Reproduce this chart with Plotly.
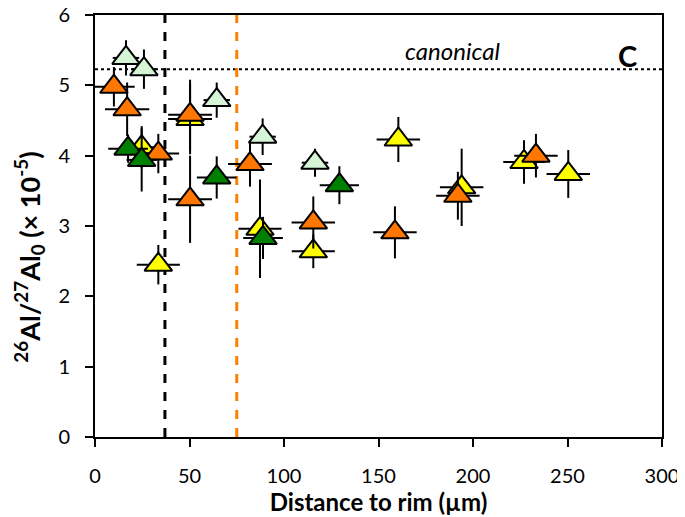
import plotly.graph_objects as go

# Light green series
lg_x = [16.4, 25.9, 64.4, 88.7, 116.4]
lg_y = [5.39, 5.23, 4.79, 4.27, 3.90]
lg_xe = [7, 6.5, 7, 7, 7]
lg_ye = [0.25, 0.28, 0.25, 0.26, 0.20]

# Yellow series
ye_x = [24.7, 33.5, 50.3, 87.3, 115.5, 160.5, 194.0, 227.0, 250.4]
ye_y = [4.12, 2.45, 4.52, 2.96, 2.64, 4.23, 3.55, 3.91, 3.74]
ye_xe = [10, 11.4, 11.6, 11.4, 11.4, 11.5, 11.5, 11, 11.5]
ye_ye = [0.3, 0.28, 0.5, 0.7, 0.24, 0.32, 0.55, 0.31, 0.34]

# Orange series
or_x = [10.0, 17.0, 33.5, 50.3, 50.3, 82.0, 115.5, 158.7, 192.0, 233.3]
or_y = [4.98, 4.66, 4.03, 4.58, 3.38, 3.88, 3.05, 2.91, 3.43, 4.00]
or_xe = [11, 11.7, 11, 11.6, 11.6, 11.6, 11.5, 11.5, 11.5, 11.5]
or_ye = [0.28, 0.38, 0.28, 0.5, 0.62, 0.32, 0.37, 0.37, 0.34, 0.31]

# Dark green series
dg_x = [17.5, 24.7, 64.4, 88.9, 129.3]
dg_y = [4.10, 3.94, 3.69, 2.83, 3.58]
dg_xe = [10.5, 8, 10.5, 10.5, 10.4]
dg_ye = [0.2, 0.45, 0.3, 0.3, 0.27]

canonical = 5.23
rim_black = 37
rim_orange = 75

series = [
    (lg_x, lg_y, lg_xe, lg_ye, "#d6f5d6"),
    (ye_x, ye_y, ye_xe, ye_ye, "#ffff00"),
    (or_x, or_y, or_xe, or_ye, "#ff7700"),
    (dg_x, dg_y, dg_xe, dg_ye, "#008000"),
]

fig = go.Figure()
for xs, ys, xe, yee, col in series:
    fig.add_trace(go.Scatter(
        x=xs, y=ys, mode="markers",
        marker=dict(symbol="triangle-up", size=24, color=col,
                    line=dict(color="black", width=2)),
        error_x=dict(type="data", array=xe, visible=True, color="black",
                     thickness=2, width=0),
        error_y=dict(type="data", array=yee, visible=True, color="black",
                     thickness=2, width=0),
        showlegend=False, cliponaxis=True,
    ))

fig.add_shape(type="line", xref="x", yref="y", x0=0, x1=300, y0=canonical, y1=canonical,
              line=dict(color="black", width=2, dash="dot"), layer="below")
fig.add_shape(type="line", xref="x", yref="y", x0=rim_black, x1=rim_black, y0=0, y1=6,
              line=dict(color="black", width=3, dash="dash"), layer="below")
fig.add_shape(type="line", xref="x", yref="y", x0=rim_orange, x1=rim_orange, y0=0, y1=6,
              line=dict(color="#ff8000", width=3, dash="dash"), layer="below")

fig.add_annotation(x=189, y=5.5, xref="x", yref="y", text="<i>canonical</i>",
                   showarrow=False, font=dict(family="Lato", size=24, color="black"))
fig.add_annotation(x=281.5, y=5.43, xref="x", yref="y", text="<b>C</b>",
                   showarrow=False, font=dict(family="Lato", size=29, color="black"))

# y-axis title as a rotated annotation (placed slightly below the plot centre, as in the reference)
fig.add_annotation(x=0, y=2.55, xref="paper", yref="y", xanchor="center", yanchor="middle",
                   xshift=-66, textangle=-90,
                   text="<b><sup>26</sup>Al/<sup>27</sup>Al<sub>0</sub> (× 10<sup>-5</sup>)</b>",
                   showarrow=False, font=dict(family="Lato", size=27, color="black"))

# page body has an 8px default margin, so the figure is sized/placed to compensate
fig.update_layout(
    width=677, height=509,
    margin=dict(l=87, r=23, t=7, b=80),
    plot_bgcolor="white", paper_bgcolor="white",
    font=dict(family="Lato", color="black"),
)
fig.update_xaxes(range=[0, 300], dtick=50, showgrid=False, zeroline=False,
                 showline=True, linecolor="black", linewidth=2, mirror=True,
                 ticks="outside", ticklen=8, tickwidth=2, tickcolor="black",
                 tickfont=dict(size=20), automargin=False, ticklabelstandoff=12,
                 ticklabeloverflow="allow",
                 title=dict(text="<b>Distance to rim (µm)</b>", font=dict(size=24), standoff=4))
fig.update_yaxes(range=[0, 6], dtick=1, showgrid=False, zeroline=False,
                 showline=True, linecolor="black", linewidth=2, mirror=True,
                 ticks="outside", ticklen=8, tickwidth=2, tickcolor="black",
                 tickfont=dict(size=20), automargin=False, ticklabelstandoff=11,
                 ticklabeloverflow="allow")

fig.write_html("out.html")
